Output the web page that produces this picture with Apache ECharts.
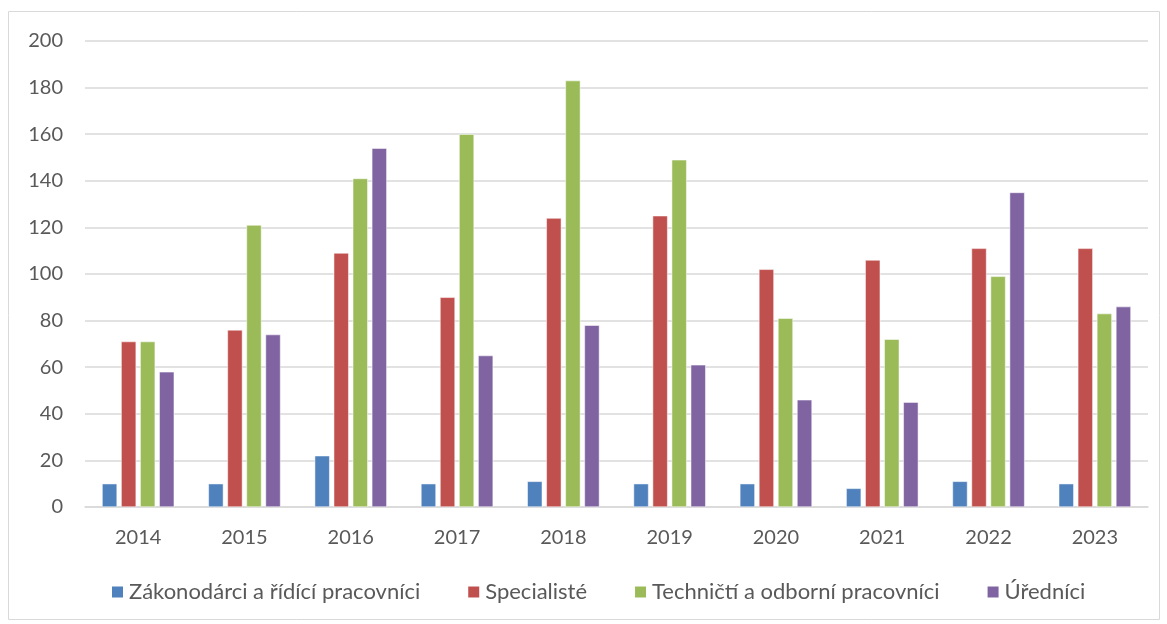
<!DOCTYPE html>
<html><head><meta charset="utf-8">
<script src="https://cdn.jsdelivr.net/npm/echarts@6/dist/echarts.min.js"></script>
<style>html,body{margin:0;padding:0;background:#fff}#c{width:1167px;height:624px}</style>
</head><body><div id="c"></div>
<script>
const categories = ['2014','2015','2016','2017','2018','2019','2020','2021','2022','2023'];
const seriesNames = ['Zákonodárci a řídící pracovníci','Specialisté','Techničtí a odborní pracovníci','Úředníci'];
const zakonodarci = [10,10,22,10,11,10,10,8,11,10];
const specialiste = [71,76,109,90,124,125,102,106,111,111];
const technicti = [71,121,141,160,183,149,81,72,99,83];
const urednici = [58,74,154,65,78,61,46,45,135,86];
const yTicks = {min:0, max:200, interval:20};
const colors = ['#4F81BD','#C0504D','#9BBB59','#8064A2'];
const values = [zakonodarci, specialiste, technicti, urednici];

const chart = echarts.init(document.getElementById('c'));
const font = 'Lato, "Open Sans", sans-serif';
chart.setOption({
  animation:false,
  color:colors,
  graphic:[{type:'rect',shape:{x:8.5,y:11.5,width:1151,height:608},style:{fill:'none',stroke:'#d9d9d9',lineWidth:1},silent:true}],
  grid:{left:85,right:19,top:41,bottom:117},
  legend:{
    bottom:16, left:105, itemWidth:13, itemHeight:13, itemGap:46, icon:'rect',
    textStyle:{color:'#595959',fontSize:22,fontFamily:font},
    data:seriesNames
  },
  xAxis:{type:'category',data:categories,
    axisLine:{lineStyle:{color:'#d9d9d9',width:1.5}},axisTick:{show:false},
    axisLabel:{color:'#595959',fontSize:20,fontFamily:font,margin:21}},
  yAxis:{type:'value',min:yTicks.min,max:yTicks.max,interval:yTicks.interval,
    axisLine:{show:false},axisTick:{show:false},
    splitLine:{lineStyle:{color:'#d9d9d9',width:1.5}},
    axisLabel:{color:'#595959',fontSize:20,fontFamily:font,margin:22}},
  series: seriesNames.map((n,i)=>({
    name:n,type:'bar',data:values[i],barWidth:15,barGap:'27%',
    itemStyle:{color:colors[i],borderColor:'#fff',borderWidth:0.5}
  }))
});
</script></body></html>
